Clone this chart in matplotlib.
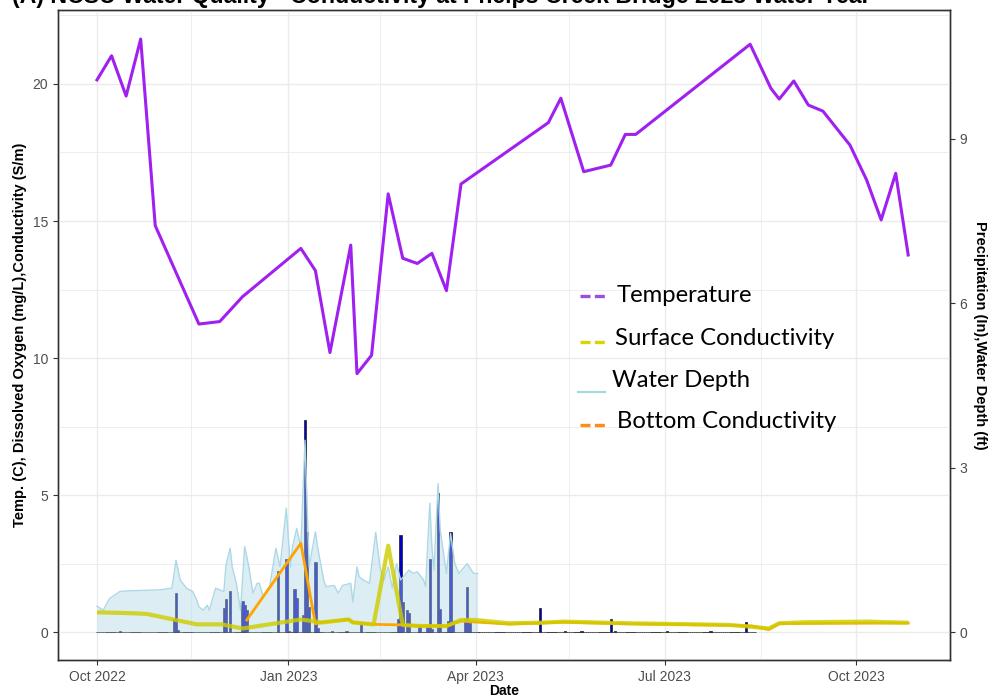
import numpy as np
import pandas as pd
import matplotlib
matplotlib.use("Agg")
import matplotlib.pyplot as plt
import matplotlib.dates as mdates
from matplotlib.lines import Line2D

plt.rcParams['font.family'] = ['Liberation Sans', 'DejaVu Sans']

# water year start, every daily series below is counted in days from here
start = pd.Timestamp('2022-10-01')

# temperature (C)
temp_dates = ['2022-10-01', '2022-10-08', '2022-10-15', '2022-10-22', '2022-10-29',
              '2022-11-19', '2022-11-29', '2022-12-10', '2023-01-07', '2023-01-14',
              '2023-01-21', '2023-01-31', '2023-02-03', '2023-02-10', '2023-02-18',
              '2023-02-25', '2023-03-04', '2023-03-11', '2023-03-18', '2023-03-25',
              '2023-05-06', '2023-05-12', '2023-05-23', '2023-06-05', '2023-06-12',
              '2023-06-17', '2023-08-11', '2023-08-21', '2023-08-25', '2023-09-01',
              '2023-09-08', '2023-09-15', '2023-09-28', '2023-10-06', '2023-10-13',
              '2023-10-20', '2023-10-26']
temp_vals = [20.15, 21.03, 19.56, 21.64, 14.83, 11.24, 11.33, 12.24, 14.00, 13.19,
             10.20, 14.12, 9.43, 10.10, 15.99, 13.64, 13.45, 13.82, 12.46, 16.35,
             18.59, 19.48, 16.80, 17.04, 18.16, 18.16, 21.45, 19.84, 19.45, 20.11,
             19.23, 19.01, 17.77, 16.50, 15.04, 16.74, 13.76]

# surface conductivity
surf_dates = ['2022-10-01', '2022-10-12', '2022-10-20', '2022-10-25', '2022-11-18',
              '2022-11-30', '2022-12-10', '2023-01-07', '2023-01-17', '2023-01-30',
              '2023-02-01', '2023-02-11', '2023-02-18', '2023-02-25', '2023-03-05',
              '2023-03-18', '2023-03-25', '2023-04-01', '2023-04-17', '2023-05-02',
              '2023-05-13', '2023-05-23', '2023-06-14', '2023-08-01', '2023-08-12',
              '2023-08-20', '2023-08-25', '2023-09-07', '2023-10-06', '2023-10-26']
surf_vals = [0.72, 0.70, 0.68, 0.66, 0.28, 0.28, 0.13, 0.46, 0.35, 0.46,
             0.35, 0.28, 3.15, 0.26, 0.22, 0.22, 0.44, 0.44, 0.32, 0.34,
             0.38, 0.36, 0.32, 0.26, 0.19, 0.13, 0.32, 0.36, 0.38, 0.34]

# bottom conductivity
bot_dates = ['2022-12-12', '2023-01-07', '2023-01-14', '2023-01-17', '2023-01-30',
             '2023-02-01', '2023-02-11', '2023-02-25', '2023-03-05', '2023-03-18',
             '2023-03-25', '2023-04-17', '2023-05-13', '2023-06-14', '2023-08-01',
             '2023-08-12', '2023-08-20', '2023-08-25', '2023-10-26']
bot_vals = [0.44, 3.24, 0.30, 0.35, 0.46, 0.35, 0.28, 0.26, 0.22, 0.22,
            0.40, 0.29, 0.36, 0.30, 0.25, 0.22, 0.09, 0.31, 0.33]

# water depth (ft), day offsets from start
depth_day = [0, 3, 6, 11, 14, 30, 36, 38, 40, 43, 46, 48, 49, 51, 53, 54, 57, 61,
             62, 64, 65, 67, 69, 71, 73, 75, 77, 78, 80, 83, 86, 88, 91, 93, 94,
             96, 98, 100, 102, 105, 106, 109, 110, 114, 116, 118, 122, 123, 125,
             126, 128, 131, 134, 136, 138, 140, 142, 144, 146, 150, 152, 154, 157,
             158, 160, 161, 162, 164, 165, 168, 170, 172, 174, 178, 181, 183]
depth_ft = [0.47, 0.40, 0.61, 0.74, 0.75, 0.77, 0.80, 1.31, 0.95, 0.80, 0.74, 0.58,
            0.46, 0.40, 0.49, 0.40, 0.80, 0.74, 1.22, 1.53, 1.19, 0.89, 0.40, 1.56,
            1.19, 0.71, 0.89, 0.89, 0.64, 0.83, 1.53, 1.19, 2.26, 1.19, 1.56, 1.89,
            1.56, 3.50, 1.19, 1.83, 1.56, 0.95, 0.83, 0.85, 0.71, 0.85, 0.89, 0.55,
            1.19, 1.01, 0.95, 0.89, 1.82, 1.19, 0.95, 1.19, 0.80, 1.25, 0.95, 1.13,
            1.07, 1.10, 0.95, 0.83, 2.35, 1.56, 1.13, 2.71, 1.86, 1.07, 1.80, 1.25,
            1.07, 1.25, 1.07, 1.07]

# daily precipitation (in); days not listed were dry
precip_last_day = 316
rain_day = [11, 37, 38, 39, 61, 62, 64, 70, 71, 72, 87, 91, 92, 95, 96, 99, 100,
            101, 102, 105, 106, 113, 120, 127, 145, 146, 147, 149, 150, 155, 159,
            160, 161, 164, 165, 169, 170, 171, 177, 178, 179, 213, 225, 233, 247,
            249, 274, 295, 312]
rain_in = [0.02, 0.24, 0.71, 0.03, 0.44, 0.60, 0.75, 0.56, 0.49, 0.41, 1.11, 1.33,
           0.02, 0.78, 0.63, 0.32, 3.87, 1.83, 0.45, 1.28, 0.07, 0.02, 0.02, 0.15,
           0.23, 1.77, 0.55, 0.40, 0.34, 0.11, 0.10, 1.34, 0.05, 2.54, 0.42, 0.21,
           1.83, 0.21, 0.24, 0.83, 0.17, 0.43, 0.02, 0.02, 0.24, 0.02, 0.02, 0.02,
           0.18]

legend_names = ['Temperature', 'Surface Conductivity', 'Water Depth', 'Bottom Conductivity']

temp_t = pd.to_datetime(temp_dates)
surf_t = pd.to_datetime(surf_dates)
bot_t = pd.to_datetime(bot_dates)
depth_t = start + pd.to_timedelta(depth_day, unit='D')
precip = np.zeros(precip_last_day + 1)
precip[rain_day] = rain_in
precip_t = start + pd.to_timedelta(np.arange(precip_last_day + 1), unit='D')

fig = plt.figure(figsize=(9.94, 6.96), dpi=100)
ax = fig.add_axes([58 / 994, 36 / 696, 892 / 994, 650 / 696])
ax2 = ax.twinx()
ax2.set_zorder(ax.get_zorder() - 1)
ax.patch.set_visible(False)

xlim = (start - pd.Timedelta(days=18.75), start + pd.Timedelta(days=410.1))
ax.set_xlim(*xlim)
ax.set_ylim(-1.02, 22.7)
ax2.set_ylim(-0.51, 11.35)

grid_col = '#EBEBEB'
ax.xaxis.set_major_locator(mdates.MonthLocator(bymonth=[1, 4, 7, 10]))
ax.xaxis.set_major_formatter(mdates.DateFormatter('%b %Y'))
minor_x = pd.to_datetime(['2022-11-15', '2023-02-14', '2023-05-16', '2023-08-16'])
ax.set_xticks(mdates.date2num(minor_x), minor=True)
ax.set_yticks([0, 5, 10, 15, 20])
ax.set_yticks([2.5, 7.5, 12.5, 17.5, 22.5], minor=True)
ax2.set_yticks([0, 3, 6, 9])

ax.grid(True, which='major', color=grid_col, lw=1.0, zorder=0)
ax.grid(True, which='minor', color=grid_col, lw=0.6, zorder=0)
ax.set_axisbelow(True)

for a in (ax, ax2):
    for s in a.spines.values():
        s.set_color('#333333')
        s.set_linewidth(1.0)
    a.tick_params(which='major', length=3.5, width=0.8, color='#333333',
                  labelcolor='#4D4D4D', labelsize=10)
    a.tick_params(which='minor', length=0)

# everything is drawn on ax so the layers can interleave;
# precipitation and depth use the right-hand (ax2) scale
rscale = ax2.transData
ax.bar(precip_t, precip, width=1.2, color='#0000CD', edgecolor='#1A1A1A',
       linewidth=0.5, zorder=2.2, transform=rscale)
ax.fill_between(depth_t, 0, depth_ft, color='#ADD8E6', alpha=0.42, lw=0,
                zorder=3, transform=rscale)
ax.plot(depth_t, depth_ft, color='#ADD8E6', lw=1.0, zorder=3.1, transform=rscale)
ax.plot(bot_t, bot_vals, color='#FFA500', lw=2.0, zorder=3.3)
ax.plot(surf_t, surf_vals, color='#CDCD00', lw=3.0, alpha=0.82, zorder=3.4,
        solid_capstyle='butt')
ax.plot(temp_t, temp_vals, color='#A020F0', lw=2.2, zorder=3.5)

ax.set_xlim(*xlim)
ax.set_ylim(-1.02, 22.7)

ax.set_xlabel('Date', fontsize=10, fontweight='bold', labelpad=0)
ax.set_ylabel('Temp. (C), Dissolved Oxygen (mg/L),Conductivity (S/m)',
              fontsize=10.5, fontweight='bold', labelpad=4)
ax2.set_ylabel('Precipitation (In),Water Depth (ft)', fontsize=10.5,
               fontweight='bold', rotation=270, va='center')
ax2.yaxis.set_label_coords(1.034, 0.5)

fig.text(12 / 994, 1 - 3.5 / 696,
         '(A) NCSU Water Quality - Conductivity at Phelps Creek Bridge 2023 Water Year',
         fontsize=16.7, fontweight='bold', va='baseline', ha='left')

# hand-placed key inside the panel
key = [('#9B4FDB', (580, 608), 296, 617, 295, '--'),
       ('#D6D600', (580, 608), 342, 615, 339, '--'),
       ('#A8D8E2', (578, 605), 392, 612, 380, '-'),
       ('#FF8C1A', (580, 608), 425, 617, 422, '--')]
for name, (col, (x0, x1), ly, tx, ty, ls) in zip(legend_names, key):
    fig.add_artist(Line2D([x0 / 994, x1 / 994], [1 - ly / 696, 1 - ly / 696],
                          color=col, lw=2.4 if ls == '--' else 1.6,
                          linestyle=(0, (3.0, 1.3)) if ls == '--' else '-'))
    fig.text(tx / 994, 1 - ty / 696, name, fontsize=17.2, va='center', ha='left',
             family=['Lato', 'DejaVu Sans'], color='black')

fig.savefig('out.png', dpi=100)
